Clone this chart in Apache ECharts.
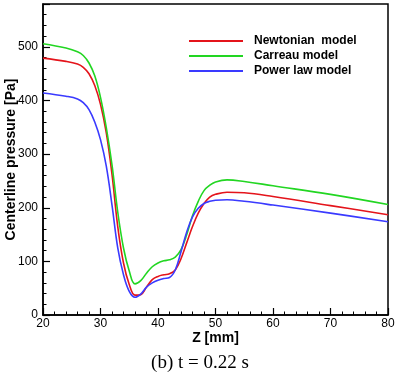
<!DOCTYPE html>
<html>
<head>
<meta charset="utf-8">
<script src="https://cdn.jsdelivr.net/npm/echarts@6/dist/echarts.min.js"></script>
<style>
  html, body { margin: 0; padding: 0; background: #fff; }
  #chart { width: 400px; height: 375px; }
</style>
</head>
<body>
<div id="chart"></div>
<script>
// axial position Z [mm]
const zValues = [20, 24, 26, 27, 28, 29, 30, 31, 32, 33, 34, 35, 36, 37, 38, 39, 40, 41, 42, 43, 44, 45, 46, 47, 48, 49, 50, 52, 55, 60, 70, 80];
// centerline pressure [Pa]
const newtonian = [479, 473, 468, 462, 450, 428, 393, 340, 262, 165, 97, 57, 37, 38, 52, 66, 72, 75, 77, 84, 105, 135, 165, 190, 208, 220, 225, 229, 228, 221, 204, 187];
const carreau   = [506, 498, 491, 484, 470, 446, 406, 350, 280, 192, 125, 82, 58, 64, 78, 90, 97, 101, 103, 108, 122, 150, 185, 212, 232, 242, 248, 252, 249, 241, 225, 206];
const powerLaw  = [414, 408, 403, 396, 383, 360, 327, 278, 205, 125, 75, 44, 33, 39, 52, 60, 65, 68, 70, 84, 118, 155, 183, 199, 208, 212, 214, 215, 212, 205, 190, 174];
const seriesNames = ['Newtonian  model', 'Carreau model', 'Power law model'];

const pair = (ys) => zValues.map((z, i) => [z, ys[i]]);

const chart = echarts.init(document.getElementById('chart'));
const lineSeries = (name, ys, color) => ({
  name: name,
  type: 'line',
  data: pair(ys),
  smooth: 0.4,
  showSymbol: false,
  lineStyle: { color: color, width: 1.6 },
  itemStyle: { color: color }
});

chart.setOption({
  animation: false,
  grid: { left: 43, right: 12, top: 4, bottom: 60, outerBoundsMode: 'none', containLabel: false, show: true, borderColor: '#000', borderWidth: 1.5 },
  legend: {
    orient: 'vertical',
    left: 189,
    top: 35,
    padding: 0,
    itemWidth: 54,
    itemHeight: 2,
    itemGap: 3,
    icon: 'rect',
    textStyle: { fontFamily: 'Liberation Sans', fontWeight: 'bold', fontSize: 12, color: '#000', padding: [0, 0, 0, 6] },
    data: seriesNames
  },
  xAxis: {
    type: 'value',
    min: 20, max: 80, interval: 10,
    name: 'Z [mm]',
    nameLocation: 'middle',
    nameGap: 16,
    nameMoveOverlap: false,
    nameTextStyle: { fontFamily: 'Liberation Sans', fontWeight: 'bold', fontSize: 14, color: '#000' },
    axisLine: { lineStyle: { color: '#000', width: 1.5 } },
    axisTick: { inside: true, length: 7, lineStyle: { color: '#000', width: 1.2 } },
    minorTick: { show: true, splitNumber: 5, length: 3.5, lineStyle: { color: '#000' } },
    splitLine: { show: false },
    axisLabel: { fontFamily: 'Liberation Sans', fontSize: 12, color: '#000', margin: 3 }
  },
  yAxis: {
    type: 'value',
    min: 0, max: 580, interval: 100,
    name: 'Centerline pressure [Pa]',
    nameLocation: 'middle',
    nameGap: 25,
    nameMoveOverlap: false,
    nameTextStyle: { fontFamily: 'Liberation Sans', fontWeight: 'bold', fontSize: 14, color: '#000' },
    axisLine: { lineStyle: { color: '#000', width: 1.5 } },
    axisTick: { inside: true, length: 7, lineStyle: { color: '#000', width: 1.2 } },
    minorTick: { show: true, splitNumber: 5, length: 3.5, lineStyle: { color: '#000' } },
    splitLine: { show: false },
    axisLabel: { fontFamily: 'Liberation Sans', fontSize: 12, color: '#000', margin: 5, showMaxLabel: false }
  },
  graphic: [{
    type: 'text',
    left: 'center',
    top: 354,
    style: { text: '(b) t = 0.22 s', font: '19px "Liberation Serif"', fill: '#000' }
  }],
  series: [
    lineSeries(seriesNames[0], newtonian, '#e4141b'),
    lineSeries(seriesNames[1], carreau, '#22d622'),
    lineSeries(seriesNames[2], powerLaw, '#3a3aff')
  ]
});
</script>
</body>
</html>
